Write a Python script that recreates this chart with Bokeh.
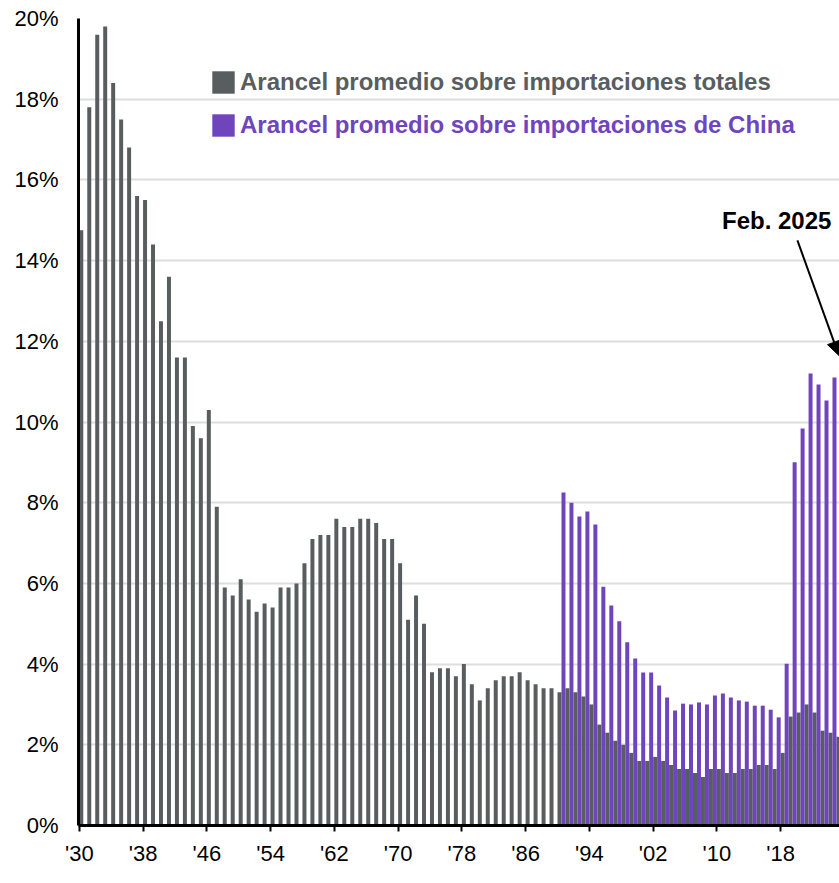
from bokeh.plotting import figure
from bokeh.models import (ColumnDataSource, FixedTicker, PrintfTickFormatter, Range1d,
                          Arrow, NormalHead, Label, Legend, LegendItem)
from bokeh.embed import file_html
from bokeh.resources import INLINE

# ---------------- data ----------------
years_total = list(range(1930, 2026))
tariff_total = [
    14.75, 17.8, 19.6, 19.8, 18.4, 17.5, 16.8, 15.6, 15.5, 14.4,   # 1930-39
    12.5, 13.6, 11.6, 11.6, 9.9, 9.6, 10.3, 7.9, 5.9, 5.7,         # 1940-49
    6.1, 5.6, 5.3, 5.5, 5.4, 5.9, 5.9, 6.0, 6.5, 7.1,              # 1950-59
    7.2, 7.2, 7.6, 7.4, 7.4, 7.6, 7.6, 7.5, 7.1, 7.1,              # 1960-69
    6.5, 5.1, 5.7, 5.0, 3.8, 3.9, 3.9, 3.7, 4.0, 3.5,              # 1970-79
    3.1, 3.4, 3.6, 3.7, 3.7, 3.8, 3.6, 3.5, 3.4, 3.4,              # 1980-89
    3.3, 3.4, 3.3, 3.2, 3.0, 2.5, 2.3, 2.1, 2.0, 1.8,              # 1990-99
    1.6, 1.6, 1.7, 1.6, 1.5, 1.4, 1.4, 1.3, 1.2, 1.4,              # 2000-09
    1.4, 1.3, 1.3, 1.4, 1.4, 1.5, 1.5, 1.4, 1.8, 2.7,              # 2010-19
    2.8, 3.0, 2.8, 2.35, 2.3, 2.2,                                 # 2020-25
]
years_china = list(range(1990, 2025))
tariff_china = [
    8.25, 8.0, 7.66, 7.78, 7.46, 5.92, 5.45, 5.06, 4.54, 4.14,     # 1990-99
    3.79, 3.79, 3.47, 3.17, 2.85, 3.02, 3.0, 3.05, 3.0, 3.22,      # 2000-09
    3.27, 3.17, 3.1, 3.07, 2.97, 2.97, 2.87, 2.68, 4.01, 9.0,      # 2010-19
    9.84, 11.2, 10.93, 10.53, 11.1,                                # 2020-24
]
tick_years = [1930, 1938, 1946, 1954, 1962, 1970, 1978, 1986, 1994, 2002, 2010, 2018]
tick_labels = ["'30", "'38", "'46", "'54", "'62", "'70", "'78", "'86", "'94", "'02", "'10", "'18"]
y_ticks = [0, 2, 4, 6, 8, 10, 12, 14, 16, 18, 20]
label_total = "Arancel promedio sobre importaciones totales"
label_china = "Arancel promedio sobre importaciones de China"
note_text = "Feb. 2025"

GRAY = "#585D60"
PURPLE = "#6F45BD"
FONT = "Liberation Sans"
BAR_W = 0.5

src_total = ColumnDataSource(dict(x=[y + BAR_W / 2 for y in years_total], top=tariff_total))
src_china = ColumnDataSource(dict(x=[y + 1.5 * BAR_W for y in years_china], top=tariff_china))

p = figure(width=839, height=880, output_backend="svg", toolbar_location=None,
           x_range=Range1d(1929.9, 2025.38), y_range=Range1d(0, 20),
           min_border_left=78, min_border_right=0, min_border_top=18, min_border_bottom=55)
p.outline_line_color = None
p.background_fill_color = "white"

r_total = p.vbar(x="x", top="top", width=BAR_W, bottom=0, source=src_total,
                 fill_color=GRAY, line_color=None)
r_china = p.vbar(x="x", top="top", width=BAR_W, bottom=0, source=src_china,
                 fill_color=PURPLE, line_color=None)

# axes
p.xgrid.grid_line_color = None
p.ygrid.grid_line_color = "#DEDEDE"
p.ygrid.grid_line_width = 2
p.ygrid.ticker = FixedTicker(ticks=y_ticks)

p.xaxis.ticker = FixedTicker(ticks=tick_years)
p.xaxis.major_label_overrides = {t: l for t, l in zip(tick_years, tick_labels)}
p.xaxis.axis_line_color = "black"
p.xaxis.axis_line_width = 3
p.xaxis.major_tick_line_color = "black"
p.xaxis.major_tick_line_width = 2
p.xaxis.major_tick_out = 6
p.xaxis.major_tick_in = 0
p.xaxis.minor_tick_line_color = None
p.xaxis.major_label_standoff = 9
p.xaxis.major_label_text_font = FONT
p.xaxis.major_label_text_font_size = "22px"
p.xaxis.major_label_text_color = "black"

p.yaxis.ticker = FixedTicker(ticks=y_ticks)
p.yaxis.formatter = PrintfTickFormatter(format="%d%%")
p.yaxis.axis_line_color = "black"
p.yaxis.axis_line_width = 3
p.yaxis.major_tick_line_color = None
p.yaxis.major_tick_out = 0
p.yaxis.major_tick_in = 0
p.yaxis.minor_tick_line_color = None
p.yaxis.major_label_standoff = 20
p.yaxis.major_label_text_font = FONT
p.yaxis.major_label_text_font_size = "22px"
p.yaxis.major_label_text_color = "black"

# legends (one per series so each label keeps its own colour)
for rend, lab, col, loc in [(r_total, label_total, GRAY, (131, 729)),
                            (r_china, label_china, PURPLE, (131, 686))]:
    lg = Legend(items=[LegendItem(label=lab, renderers=[rend])], location=loc,
                glyph_width=28, glyph_height=28, label_standoff=3,
                label_text_font=FONT, label_text_font_size="24px",
                label_text_font_style="bold", label_text_color=col,
                background_fill_alpha=0, border_line_color=None,
                padding=0, margin=0, spacing=0)
    p.add_layout(lg)

# annotation
p.add_layout(Label(x=2017.5, y=15.0, text=note_text, text_align="center",
                   text_baseline="middle", text_font=FONT, text_font_size="24px",
                   text_font_style="bold", text_color="black"))
p.add_layout(Arrow(end=NormalHead(size=14, fill_color="black", line_color="black"),
                   x_start=2020.1, y_start=14.5, x_end=2025.3, y_end=11.65,
                   line_color="black", line_width=2))

open("out.html", "w").write(file_html(p, INLINE))
